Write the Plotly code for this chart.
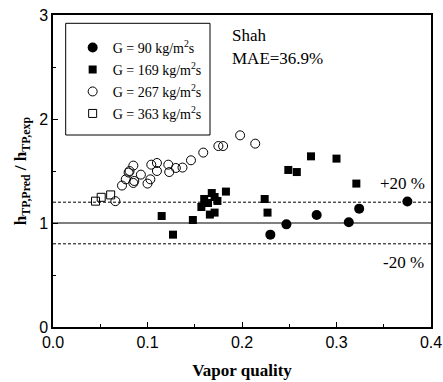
import plotly.graph_objects as go

# G = 90 kg/m2s (filled circles)
x90 = [0.375, 0.324, 0.313, 0.279, 0.247, 0.230]
y90 = [1.206, 1.138, 1.007, 1.077, 0.987, 0.888]

# G = 169 kg/m2s (filled squares)
x169 = [0.321, 0.115, 0.127, 0.148, 0.157, 0.160, 0.164, 0.166, 0.168, 0.171,
        0.171, 0.174, 0.183, 0.224, 0.227, 0.273, 0.300, 0.249, 0.258]
y169 = [1.379, 1.067, 0.888, 1.029, 1.154, 1.231, 1.192, 1.081, 1.288, 1.100,
        1.250, 1.212, 1.302, 1.231, 1.100, 1.641, 1.619, 1.510, 1.490]

# G = 267 kg/m2s (open circles)
x267 = [0.066, 0.073, 0.077, 0.080, 0.081, 0.085, 0.085, 0.086, 0.093, 0.100,
        0.103, 0.104, 0.110, 0.110, 0.122, 0.123, 0.130, 0.137, 0.146, 0.159,
        0.175, 0.180, 0.198, 0.214]
y267 = [1.210, 1.360, 1.420, 1.485, 1.500, 1.552, 1.385, 1.404, 1.465, 1.379,
        1.420, 1.561, 1.577, 1.500, 1.561, 1.490, 1.529, 1.533, 1.603, 1.677,
        1.740, 1.740, 1.843, 1.763]

# G = 363 kg/m2s (open squares)
x363 = [0.045, 0.051, 0.061]
y363 = [1.210, 1.247, 1.270]

xr = [0.0, 0.4]
ref_lines = [1.0, 1.2, 0.8]

serif = "Liberation Serif"
sans = "Liberation Sans"

fig = go.Figure()

fig.add_trace(go.Scatter(x=xr, y=[ref_lines[1]] * 2, mode="lines", showlegend=False,
                         line=dict(color="black", width=1, dash="3px,2px"), hoverinfo="skip"))
fig.add_trace(go.Scatter(x=xr, y=[ref_lines[2]] * 2, mode="lines", showlegend=False,
                         line=dict(color="black", width=1, dash="3px,2px"), hoverinfo="skip"))
fig.add_trace(go.Scatter(x=xr, y=[ref_lines[0]] * 2, mode="lines", showlegend=False,
                         line=dict(color="#555555", width=1.5), hoverinfo="skip"))

fig.add_trace(go.Scatter(x=x90, y=y90, mode="markers", name="G = 90 kg/m<sup>2</sup>s",
                         legendgroup="a",
                         marker=dict(symbol="circle", size=10, color="black")))
fig.add_trace(go.Scatter(x=x169, y=y169, mode="markers", name="G = 169 kg/m<sup>2</sup>s",
                         legendgroup="b",
                         marker=dict(symbol="square", size=8, color="black")))
fig.add_trace(go.Scatter(x=x267, y=y267, mode="markers", name="G = 267 kg/m<sup>2</sup>s",
                         legendgroup="c",
                         marker=dict(symbol="circle-open", size=9, color="black", line=dict(width=1))))
fig.add_trace(go.Scatter(x=x363, y=y363, mode="markers", name="G = 363 kg/m<sup>2</sup>s",
                         legendgroup="d",
                         marker=dict(symbol="square-open", size=8, color="black", line=dict(width=1))))

fig.add_annotation(x=0.3434, y=1.379, xref="x", yref="y", text="+20 %", showarrow=False,
                   font=dict(family=serif, size=17, color="black"), xanchor="left")
fig.add_annotation(x=0.347, y=0.622, xref="x", yref="y", text="-20 %", showarrow=False,
                   font=dict(family=serif, size=17, color="black"), xanchor="left")
fig.add_annotation(x=0.187, y=2.805, xref="x", yref="y", text="Shah", showarrow=False,
                   font=dict(family=serif, size=17, color="black"), xanchor="left")
fig.add_annotation(x=0.187, y=2.584, xref="x", yref="y", text="MAE=36.9%", showarrow=False,
                   font=dict(family=serif, size=17, color="black"), xanchor="left")

# legend frame
fig.add_shape(type="rect", xref="paper", yref="paper",
              x0=(65.7 - 53) / 378, x1=(210 - 53) / 378,
              y0=(327 - 135) / 312, y1=(327 - 23.3) / 312,
              line=dict(color="black", width=1), fillcolor="rgba(0,0,0,0)")

fig.update_layout(
    width=443, height=382,
    margin=dict(l=53, r=12, t=15, b=55, autoexpand=False),
    plot_bgcolor="white", paper_bgcolor="white",
    legend=dict(x=0.052, y=0.946, xanchor="left", yanchor="top",
                borderwidth=0, bgcolor="rgba(0,0,0,0)",
                font=dict(family=serif, size=14, color="black"),
                tracegroupgap=0.8, itemwidth=30),
    xaxis=dict(range=[0, 0.4], dtick=0.1, tickformat=".1f", showgrid=False, zeroline=False,
               showline=True, linecolor="black", linewidth=1.5, mirror=True,
               ticks="inside", ticklen=5, tickcolor="black", automargin=False,
               minor=dict(dtick=0.05, ticks="inside", ticklen=3, tickcolor="black"),
               tickfont=dict(family=sans, size=16, color="black"),
               title=dict(text="<b>Vapor quality</b>", font=dict(family=serif, size=17, color="black"),
                          standoff=14)),
    yaxis=dict(range=[0, 3], dtick=1, showgrid=False, zeroline=False,
               showline=True, linecolor="black", linewidth=1.5, mirror=True,
               ticks="inside", ticklen=5, tickcolor="black", automargin=False,
               minor=dict(dtick=0.5, ticks="inside", ticklen=3, tickcolor="black"),
               tickfont=dict(family=sans, size=16, color="black"),
               title=dict(text="<b>h<sub>TP,Pred</sub> / h<sub>TP,exp</sub></b>",
                          font=dict(family=serif, size=17, color="black"), standoff=8)),
)

fig.write_html("out.html")
